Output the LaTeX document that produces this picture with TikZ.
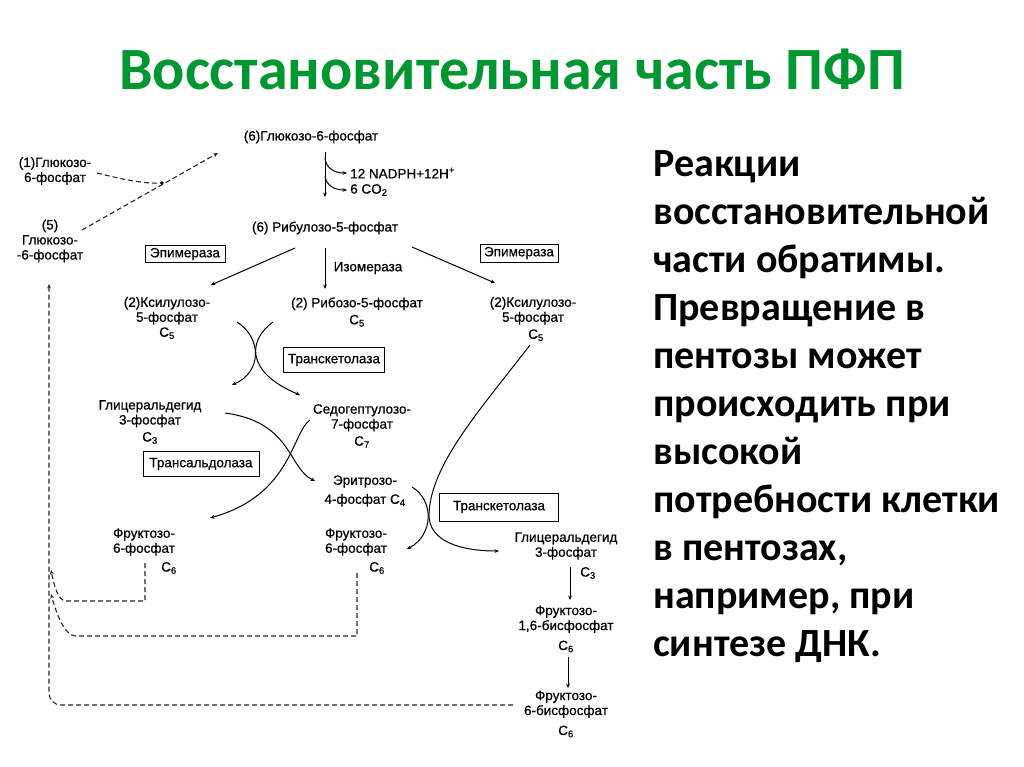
\documentclass[tikz,border=0pt]{standalone}
\usepackage{fontspec}
\setmainfont{Liberation Sans}
\newfontfamily\diag{Liberation Sans}[FakeBold=0.6]
\newfontfamily\calib{Carlito}
\usetikzlibrary{arrows.meta}
\definecolor{titlegreen}{RGB}{0,150,50}
\begin{document}
\begin{tikzpicture}[x=1pt,y=-1pt,
  lbl/.style={font=\diag\fontsize{13.5}{15}\selectfont, inner sep=0pt, align=center},
  enz/.style={draw, line width=1pt, font=\diag\fontsize{13.5}{15}\selectfont, inner sep=0pt},
  rx/.style={line width=1pt, -{Stealth[length=4.5pt,width=3.8pt]}},
  fb/.style={line width=1.1pt, dash pattern=on 5pt off 3pt, draw=black!85, -{Stealth[length=4.5pt,width=3.8pt]}},
  fbn/.style={line width=1.1pt, dash pattern=on 5pt off 3pt, draw=black!85},
]
\path[use as bounding box, fill=white] (0,0) rectangle (1024,767);

% title
\node[anchor=base, font=\calib\bfseries\fontsize{60}{70}\selectfont, text=titlegreen, inner sep=0] (title) at (512,90) {Восстановительная часть ПФП};

% right text
\node[anchor=north west, align=left, inner sep=0, font=\calib\bfseries\fontsize{40}{48}\selectfont] (txt) at (653,150)
{Реакции\\восстановительной\\части обратимы.\\Превращение в\\пентозы может\\происходить при\\высокой\\потребности клетки\\в пентозах,\\например, при\\синтезе ДНК.};

% compounds
\node[lbl] (g6pTop) at (311,137) {(6)Глюкозо-6-фосфат};
\node[lbl] (g6pOne) at (55,171) {(1)Глюкозо-\\6-фосфат};
\node[lbl] (g6pFive) at (50,241) {(5)\\Глюкозо-\\-6-фосфат};
\node[lbl, anchor=west] (nadph) at (350,173) {12 NADPH+12H\textsuperscript{+}};
\node[lbl, anchor=west] (co2) at (350,190) {6 CO\textsubscript{2}};
\node[lbl] (rib) at (325,228) {(6) Рибулозо-5-фосфат};
\node[lbl] (iso) at (368,268) {Изомераза};
\node[lbl] (xuL) at (167,318) {(2)Ксилулозо-\\5-фосфат\\C\textsubscript{5}};
\node[lbl] (r5p) at (357,312) {(2) Рибозо-5-фосфат\\[2pt]C\textsubscript{5}};
\node[lbl] (xuR) at (533,319) {(2)Ксилулозо-\\5-фосфат\\[2pt]\hspace*{6pt}C\textsubscript{5}};
\node[lbl] (gapL) at (150,422) {Глицеральдегид\\3-фосфат\\[2pt]C\textsubscript{3}};
\node[lbl] (s7p) at (362,426) {Седогептулозо-\\7-фосфат\\[2pt]C\textsubscript{7}};
\node[lbl] (e4p) at (365,491) {Эритрозо-\\[4pt]4-фосфат C\textsubscript{4}};
\node[lbl] (f6pL) at (144,542) {Фруктозо-\\6-фосфат};
\node[lbl] (f6pLc) at (169,568) {C\textsubscript{6}};
\node[lbl] (f6pM) at (356,542) {Фруктозо-\\6-фосфат};
\node[lbl] (f6pMc) at (377,568) {C\textsubscript{6}};
\node[lbl] (gapR) at (566,546) {Глицеральдегид\\3-фосфат};
\node[lbl] (gapRc) at (588,573) {C\textsubscript{3}};
\node[lbl] (f16) at (566,629) {Фруктозо-\\1,6-бисфосфат\\[5pt]C\textsubscript{6}};
\node[lbl] (f6b) at (566,714) {Фруктозо-\\6-бисфосфат\\[5pt]C\textsubscript{6}};

% enzymes
\node[enz, minimum width=80, minimum height=17] (epiL) at (185,254) {Эпимераза};
\node[enz, minimum width=78, minimum height=18] (epiR) at (519,253) {Эпимераза};
\node[enz, minimum width=101, minimum height=25] (tk1) at (334,360) {Транскетолаза};
\node[enz, minimum width=116, minimum height=25] (ta) at (201,464) {Трансальдолаза};
\node[enz, minimum width=119, minimum height=28] (tk2) at (499,507) {Транскетолаза};

% oxidative step
\coordinate (ox1) at (325,152);
\coordinate (ox2) at (325,197);
\coordinate (oxa) at (325,158);
\coordinate (oxb) at (325,176);
\draw[rx] (ox1) -- (ox2);
\draw[rx, shorten >=3pt] (oxa) .. controls (326,168) and (334,173) .. (nadph.west);
\draw[rx, shorten >=3pt] (oxb) .. controls (326,185) and (334,190) .. (co2.west);

% from ribulose
\coordinate (rl) at (295,248);
\coordinate (rm) at (325,248);
\coordinate (rr) at (412,247);
\coordinate (xlT) at (211,285);
\coordinate (rmT) at (325,289);
\coordinate (xrT) at (495,283);
\draw[rx] (rl) -- (xlT);
\draw[rx] (rm) -- (rmT);
\draw[rx] (rr) -- (xrT);

% transketolase 1 crossing
\coordinate (a1) at (237,322);
\coordinate (a2) at (232,385);
\coordinate (b1) at (273,322);
\coordinate (b2) at (300,395);
\draw[rx] (a1) .. controls (262,338) and (262,372) .. (a2);
\draw[rx] (b1) .. controls (248,340) and (245,372) .. (b2);

% transaldolase crossing
\coordinate (c1) at (225,413);
\coordinate (c2) at (315,481);
\coordinate (d1) at (310,420);
\coordinate (d2) at (210,518);
\draw[rx] (c1) .. controls (292,422) and (288,468) .. (c2);
\draw[rx] (d1) .. controls (292,432) and (292,495) .. (d2);

% transketolase 2 crossing
\coordinate (f1) at (412,487);
\coordinate (f2) at (407,549);
\coordinate (e1) at (530,345);
\coordinate (em) at (429,515);
\coordinate (e2) at (499,551);
\draw[rx] (f1) .. controls (434,500) and (434,535) .. (f2);
\draw[rx] (e1) .. controls (480,410) and (430,465) .. (em) .. controls (429,542) and (462,551) .. (e2);

% glycolysis reverse
\coordinate (g1) at (570,567);
\coordinate (g2) at (570,600);
\coordinate (h1) at (568,657);
\coordinate (h2) at (568,688);
\draw[rx] (g1) -- (g2);
\draw[rx] (h1) -- (h2);

% dashed feedbacks
\coordinate (join) at (162,183);
\coordinate (top) at (218,153);
\coordinate (fvTop) at (49,284);
\coordinate (fa) at (51,570);
\coordinate (fbb) at (51,594);
\draw[fbn] (97,173) .. controls (125,180) and (145,184) .. (join);
\draw[fb] (82,230) -- (top);
\fill (join) circle (1.8);

\draw[fb, rounded corners=12pt] (513,705) -- (49,705) -- (fvTop);
\draw[fb] (145,563) -- (145,601) -- (66,601) .. controls (58,601) and (54,585) .. (fa);
\draw[fb] (357,573) -- (357,636) -- (76,636) .. controls (64,636) and (56,612) .. (fbb);
\end{tikzpicture}
\end{document}
